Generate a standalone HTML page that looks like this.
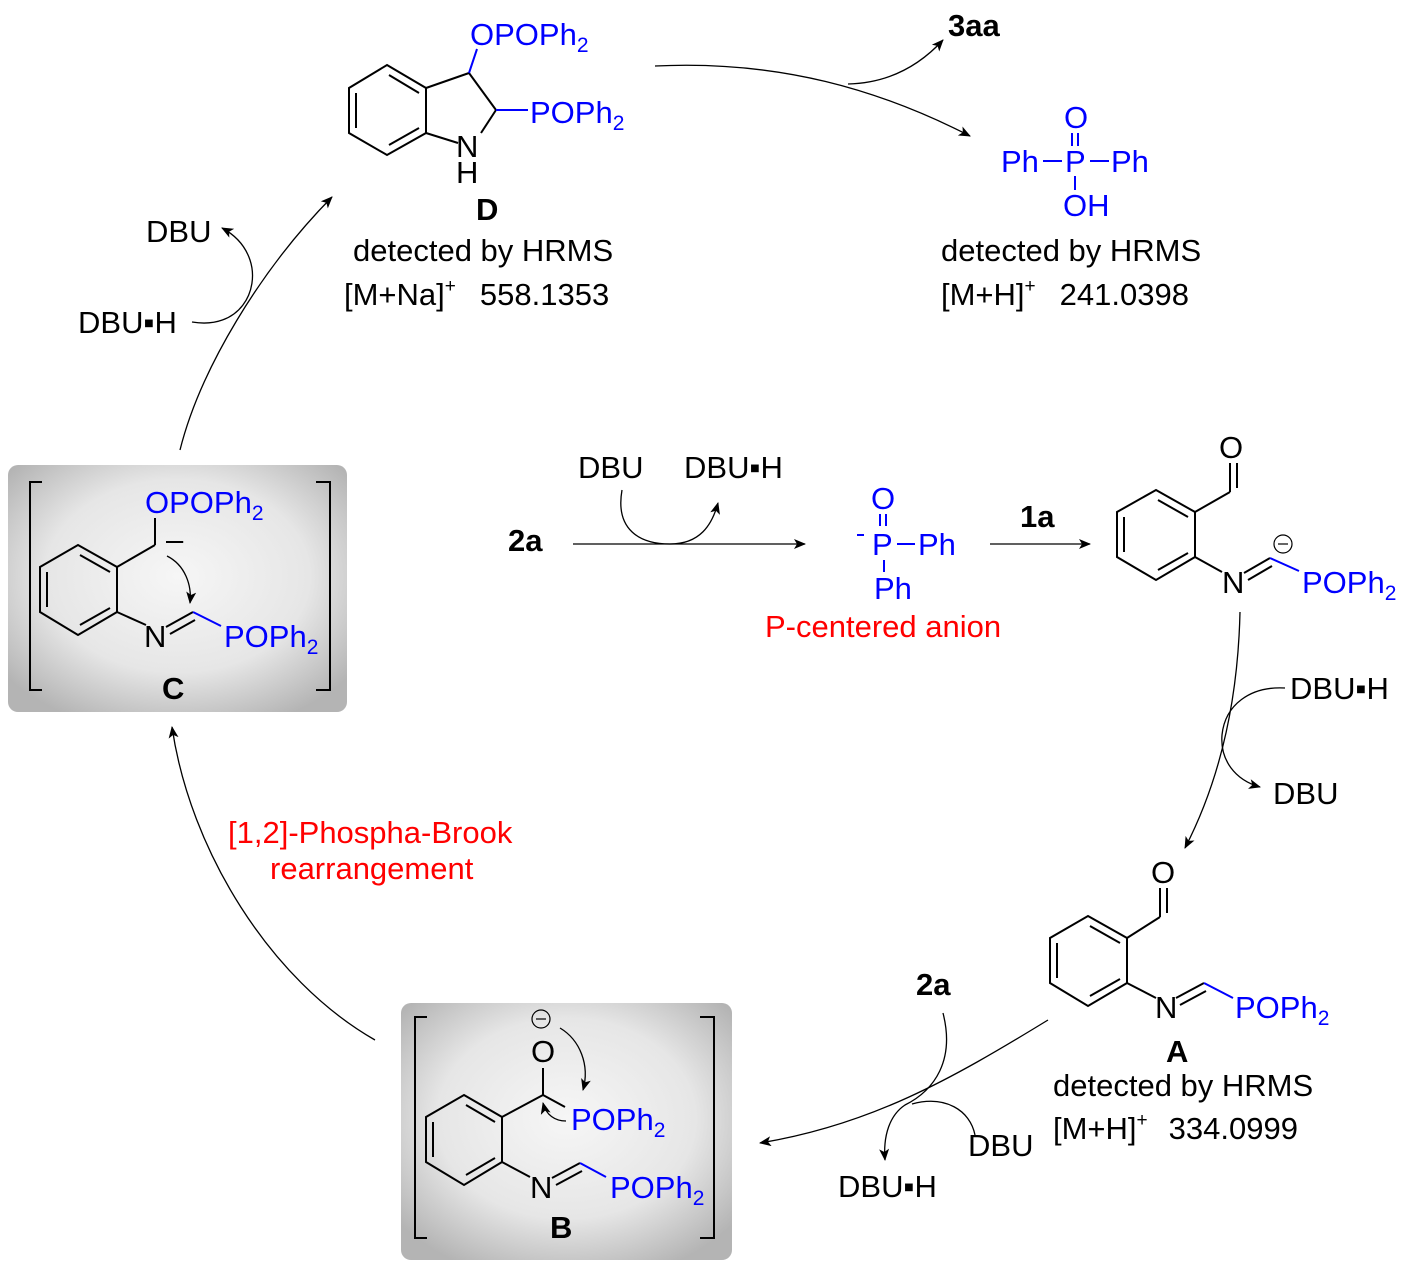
<!DOCTYPE html>
<html><head><meta charset="utf-8"><style>
html,body{margin:0;padding:0;background:#fff}
svg{display:block}
text{font-family:"Liberation Sans",Arial,sans-serif;font-size:31px;fill:#000}
.b{fill:#0000ff}
.r{fill:#ff0000}
.bold{font-weight:bold}
.sub{font-size:21px}
</style></head><body>
<svg width="1407" height="1271" viewBox="0 0 1407 1271" xmlns="http://www.w3.org/2000/svg">
<defs>
<radialGradient id="g" cx="50%" cy="45%" r="65%">
<stop offset="0" stop-color="#f6f6f6"/><stop offset="0.6" stop-color="#e6e6e6"/><stop offset="1" stop-color="#b4b4b4"/>
</radialGradient>
<marker id="ah" markerWidth="12" markerHeight="10" refX="11" refY="5" orient="auto" markerUnits="userSpaceOnUse">
<path d="M0,0 L12,5 L0,10 L3,5 Z" fill="#000"/></marker>
</defs>

<rect x="8" y="465" width="339" height="247" rx="10" fill="url(#g)"/>
<rect x="401" y="1003" width="331" height="257" rx="10" fill="url(#g)"/>

<g stroke="#000" stroke-width="2" fill="none">
<polygon points="387,65 426,88 426,133 387,155 349,133 349,88"/>
<line x1="356" y1="93" x2="356" y2="128"/><line x1="389" y1="75" x2="419" y2="93"/><line x1="389" y1="145" x2="419" y2="128"/>
<line x1="426" y1="88" x2="469" y2="73"/><line x1="469" y1="73" x2="496" y2="110"/>
<line x1="426" y1="133" x2="458" y2="143"/><line x1="496" y1="110" x2="481" y2="133"/>
<polygon points="78,545 117,567 117,612 78,635 40,612 40,567"/>
<line x1="47" y1="572" x2="47" y2="607"/><line x1="80" y1="555" x2="110" y2="572"/><line x1="80" y1="625" x2="110" y2="608"/>
<line x1="117" y1="567" x2="155" y2="545"/><line x1="155" y1="545" x2="155" y2="518"/>
<line x1="117" y1="612" x2="146" y2="625"/>
<line x1="166" y1="627" x2="193" y2="612"/><line x1="170" y1="634" x2="195" y2="620"/>
<polyline points="42,482 30,482 30,690 42,690"/><polyline points="316,482 330,482 330,690 316,690"/>
<polygon points="464,1095 502,1117 502,1162 464,1185 426,1162 426,1117"/>
<line x1="433" y1="1122" x2="433" y2="1157"/><line x1="466" y1="1105" x2="495" y2="1122"/><line x1="466" y1="1175" x2="495" y2="1158"/>
<line x1="502" y1="1117" x2="543" y2="1095"/><line x1="543" y1="1095" x2="543" y2="1068"/>
<line x1="543" y1="1095" x2="565" y2="1107"/>
<line x1="502" y1="1162" x2="530" y2="1177"/>
<line x1="552" y1="1178" x2="580" y2="1163"/><line x1="556" y1="1185" x2="582" y2="1171"/>
<polyline points="427,1017 415,1017 415,1238 427,1238"/>
<polyline points="700,1017 714,1017 714,1238 700,1238"/>
<polygon points="1156,490 1195,512 1195,557 1156,580 1117,557 1117,512"/>
<line x1="1124" y1="517" x2="1124" y2="552"/><line x1="1158" y1="500" x2="1188" y2="517"/><line x1="1158" y1="570" x2="1188" y2="553"/>
<line x1="1195" y1="512" x2="1230" y2="492"/><line x1="1230" y1="492" x2="1230" y2="463"/><line x1="1237" y1="488" x2="1237" y2="463"/>
<line x1="1195" y1="557" x2="1222" y2="572"/>
<line x1="1244" y1="573" x2="1270" y2="558"/><line x1="1248" y1="580" x2="1272" y2="566"/>
<polygon points="1088,916 1127,938 1127,983 1088,1006 1050,983 1050,938"/>
<line x1="1057" y1="943" x2="1057" y2="978"/><line x1="1090" y1="926" x2="1120" y2="943"/><line x1="1090" y1="996" x2="1120" y2="979"/>
<line x1="1127" y1="938" x2="1160" y2="917"/><line x1="1160" y1="917" x2="1160" y2="888"/><line x1="1167" y1="913" x2="1167" y2="888"/>
<line x1="1127" y1="983" x2="1156" y2="998"/>
<line x1="1176" y1="998" x2="1204" y2="983"/><line x1="1180" y1="1005" x2="1206" y2="991"/>
</g>
<g stroke="#0000ff" stroke-width="2" fill="none">
<line x1="469" y1="73" x2="477" y2="49"/>
<line x1="496" y1="110" x2="528" y2="110"/>
<line x1="193" y1="612" x2="221" y2="626"/>
<line x1="580" y1="1163" x2="606" y2="1177"/>
<line x1="1270" y1="558" x2="1299" y2="571"/>
<line x1="1204" y1="983" x2="1233" y2="998"/>
<line x1="1072" y1="133" x2="1072" y2="146"/><line x1="1078" y1="133" x2="1078" y2="146"/>
<line x1="1043" y1="161" x2="1062" y2="161"/><line x1="1090" y1="161" x2="1109" y2="161"/>
<line x1="1075" y1="176" x2="1075" y2="190"/>
<line x1="880" y1="514" x2="880" y2="526"/><line x1="886" y1="514" x2="886" y2="526"/>
<line x1="897" y1="544" x2="915" y2="544"/><line x1="884" y1="560" x2="884" y2="572"/>
<line x1="857" y1="535" x2="864" y2="535"/>
</g>

<text x="470" y="45" class="b">OPOPh<tspan class="sub" dy="7">2</tspan></text>
<text x="530" y="123" class="b">POPh<tspan class="sub" dy="7">2</tspan></text>
<text x="456" y="157">N</text><text x="456" y="183">H</text>
<text x="476" y="220" class="bold">D</text>
<text x="353" y="261">detected by HRMS</text>
<text x="344" y="305">[M+Na]<tspan font-size="19" dy="-13">+</tspan><tspan dy="13" dx="24">558.1353</tspan></text>

<text x="948" y="36" class="bold">3aa</text>
<text x="1064" y="128" class="b">O</text>
<text x="1065" y="172" class="b">P</text>
<text x="1001" y="172" class="b">Ph</text>
<text x="1111" y="172" class="b">Ph</text>
<text x="1063" y="216" class="b">OH</text>
<text x="941" y="261">detected by HRMS</text>
<text x="941" y="305">[M+H]<tspan font-size="19" dy="-13">+</tspan><tspan dy="13" dx="24">241.0398</tspan></text>

<text x="146" y="242">DBU</text>
<text x="78" y="333">DBU▪H</text>

<text x="145" y="513" class="b">OPOPh<tspan class="sub" dy="7">2</tspan></text>
<text x="166" y="550" font-size="20">–</text>
<text x="144" y="647">N</text>
<text x="224" y="647" class="b">POPh<tspan class="sub" dy="7">2</tspan></text>
<text x="162" y="699" class="bold">C</text>

<text x="508" y="551" class="bold">2a</text>
<text x="578" y="478">DBU</text>
<text x="684" y="478">DBU▪H</text>
<text x="871" y="509" class="b">O</text>
<text x="872" y="555" class="b">P</text>
<text x="918" y="555" class="b">Ph</text>
<text x="874" y="599" class="b">Ph</text>
<text x="765" y="637" class="r">P-centered anion</text>
<text x="1020" y="527" class="bold">1a</text>

<text x="1219" y="458">O</text>
<text x="1222" y="593">N</text>
<text x="1302" y="593" class="b">POPh<tspan class="sub" dy="7">2</tspan></text>
<circle cx="1283" cy="544" r="9" fill="none" stroke="#000" stroke-width="1.2"/><line x1="1278" y1="544" x2="1288" y2="544" stroke="#000" stroke-width="1.2"/>

<text x="1290" y="699">DBU▪H</text>
<text x="1273" y="804">DBU</text>

<text x="1151" y="883">O</text>
<text x="1155" y="1018">N</text>
<text x="1235" y="1018" class="b">POPh<tspan class="sub" dy="7">2</tspan></text>
<text x="1166" y="1062" class="bold">A</text>
<text x="1053" y="1096">detected by HRMS</text>
<text x="1053" y="1139">[M+H]<tspan font-size="19" dy="-13">+</tspan><tspan dy="13" dx="21">334.0999</tspan></text>

<text x="916" y="995" class="bold">2a</text>
<text x="968" y="1156">DBU</text>
<text x="838" y="1197">DBU▪H</text>

<text x="228" y="843" class="r">[1,2]-Phospha-Brook</text>
<text x="270" y="879" class="r">rearrangement</text>

<text x="531" y="1062">O</text>
<circle cx="541" cy="1019" r="9" fill="none" stroke="#000" stroke-width="1.2"/><line x1="536" y1="1019" x2="546" y2="1019" stroke="#000" stroke-width="1.2"/>
<text x="571" y="1130" class="b">POPh<tspan class="sub" dy="7">2</tspan></text>
<text x="530" y="1198">N</text>
<text x="610" y="1198" class="b">POPh<tspan class="sub" dy="7">2</tspan></text>
<text x="550" y="1238" class="bold">B</text>

<g stroke="#000" stroke-width="1.3" fill="none">
<path d="M655,66 C780,60 880,90 970,136" marker-end="url(#ah)"/>
<path d="M848,84 C890,83 920,65 943,40" marker-end="url(#ah)"/>
<path d="M573,544 L805,544" marker-end="url(#ah)"/>
<path d="M622,490 C615,530 640,544 670,544 C700,544 712,525 718,503" marker-end="url(#ah)"/>
<path d="M990,544 L1090,544" marker-end="url(#ah)"/>
<path d="M1240,612 C1238,700 1220,780 1185,848" marker-end="url(#ah)"/>
<path d="M1285,688 C1250,686 1225,705 1222,735 C1220,760 1235,780 1260,787" marker-end="url(#ah)"/>
<path d="M1048,1020 C950,1080 870,1125 760,1143" marker-end="url(#ah)"/>
<path d="M943,1013 C955,1060 935,1090 905,1105 C890,1115 883,1135 885,1160" marker-end="url(#ah)"/>
<path d="M975,1135 C970,1110 945,1095 912,1104"/>
<path d="M375,1040 C270,980 190,850 172,727" marker-end="url(#ah)"/>
<path d="M180,450 C200,370 260,270 332,197" marker-end="url(#ah)"/>
<path d="M192,322 C240,330 260,290 250,260 C245,245 235,235 222,228" marker-end="url(#ah)"/>
<path d="M167,556 C185,565 192,585 190,603" marker-end="url(#ah)"/>
<path d="M560,1028 C580,1040 590,1065 583,1090" marker-end="url(#ah)"/>
<path d="M566,1121 C555,1121 546,1115 543,1103" marker-end="url(#ah)"/>
</g>
</svg>
</body></html>
